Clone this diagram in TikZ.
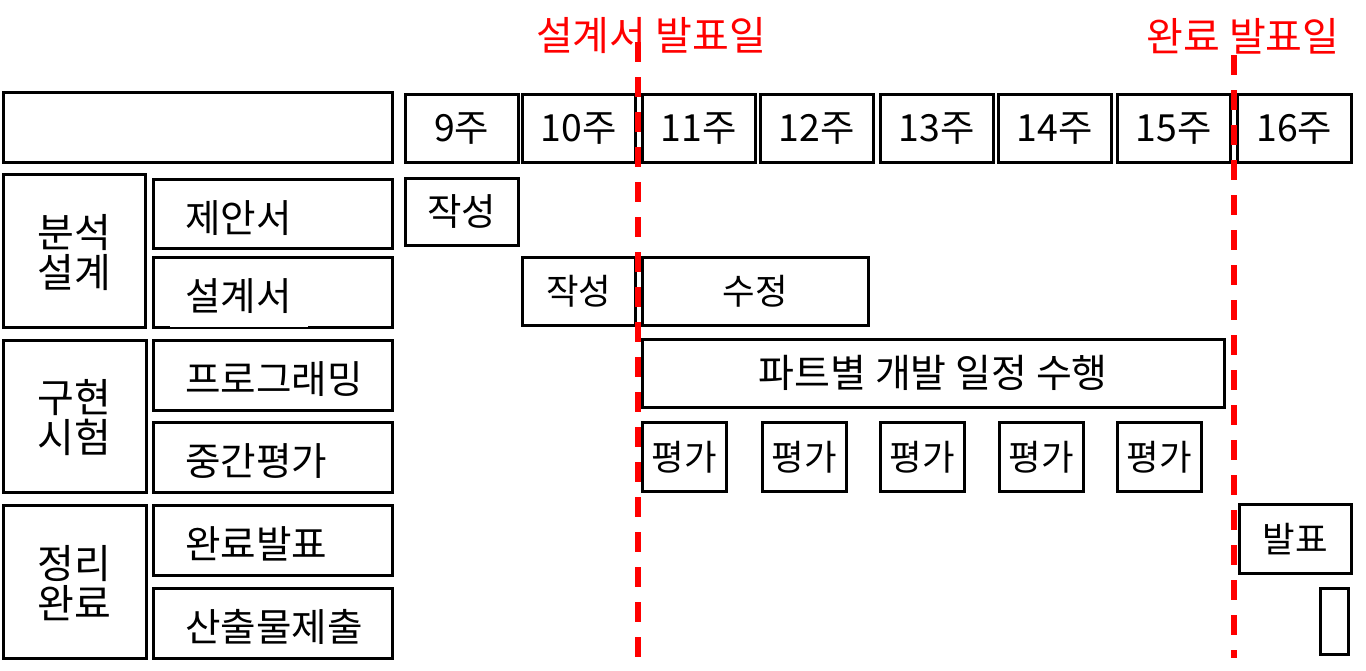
\documentclass[tikz,border=0pt]{standalone}
\usepackage{fontspec}
\setmainfont{Noto Sans CJK KR}
\usetikzlibrary{positioning}
\tikzset{
  cell/.style={draw, line width=1.25pt, inner sep=0pt, font=\fontsize{18.7}{19.5}\selectfont},
  small/.style={font=\fontsize{17.7}{19}\selectfont},
  stage/.style={align=center, text depth=-4pt, font=\fontsize{20}{20}\selectfont},
  due/.style={red, line width=2.6pt, dash pattern=on 10pt off 7.5pt},
  duetext/.style={red, font=\fontsize{20}{22}\selectfont},
}
% 좌상단(#3,#4), 우하단(#5,#6) 픽셀 좌표로 상자 그리기
\newcommand{\boxat}[7][]{%
  \node[cell, #1, anchor=north west, minimum width={(#5-#3)*0.5pt},
  minimum height={(#6-#4)*0.5pt}] (#2) at (#3,#4) {#7};
}
\begin{document}
\begin{tikzpicture}[x=0.5pt, y=-0.5pt]
  \useasboundingbox (0,0) rectangle (1366,670);

  % 주차 머리줄
  \boxat{head}{2}{91}{391}{161}{}
  \boxat{w9}{404}{93}{517}{161}{9주}
  \boxat{w10}{521}{93}{634}{161}{10주}
  \boxat{w11}{641}{93}{754}{161}{11주}
  \boxat{w12}{759}{93}{872}{161}{12주}
  \boxat{w13}{879}{93}{992}{161}{13주}
  \boxat{w14}{997}{93}{1110}{161}{14주}
  \boxat{w15}{1116}{93}{1229}{161}{15주}
  \boxat{w16}{1236}{93}{1350}{161}{16주}

  % 단계
  \boxat[stage]{design}{2}{173}{144}{326}{분석\\설계}
  \boxat[stage]{impl}{2}{339}{145}{491}{구현\\시험}
  \boxat[stage]{wrap}{2}{504}{145}{657}{정리\\완료}

  % 세부 항목
  \boxat{proposal}{152}{178}{391}{247}{}
  \boxat{spec}{152}{256}{391}{326}{}
  \draw[white, line width=0.6pt] (170,326.6) -- (308,326.6);
  \boxat{coding}{152}{339}{391}{409}{}
  \boxat{midterm}{152}{421}{391}{491}{}
  \boxat{final}{152}{504}{391}{574}{}
  \boxat{submit}{152}{587}{391}{657}{}
  \foreach \item/\txt in {proposal/제안서, spec/설계서, coding/프로그래밍,
    midterm/중간평가, final/완료발표, submit/산출물제출}
    \node[cell, draw=none, anchor=west, font=\fontsize{19.3}{20}\selectfont] (\item-txt)
      at ([xshift=16pt, yshift=-2pt]\item.west) {\txt};

  % 일정
  \boxat{write1}{404}{177}{517}{244}{작성}
  \boxat[small]{write2}{521}{256}{634}{324}{작성}
  \boxat[small]{revise}{641}{256}{867}{324}{수정}
  \boxat[font=\fontsize{19.5}{20}\selectfont]{dev}{641}{338}{1223}{406}{파트별 개발 일정 수행}
  \boxat[small]{eval1}{641}{421}{725}{490}{평가}
  \boxat[small]{eval2}{761}{421}{845}{490}{평가}
  \boxat[small]{eval3}{879}{421}{963}{490}{평가}
  \boxat[small]{eval4}{998}{421}{1082}{490}{평가}
  \boxat[small]{eval5}{1116}{421}{1200}{490}{평가}
  \boxat[small]{talk}{1238}{503}{1350}{572}{발표}
  \boxat{files}{1319}{587}{1347}{653}{}

  % 발표일 표시선
  \coordinate (d1top) at (638,42);
  \coordinate (d1bot) at (638,658);
  \coordinate (d2top) at (1234,55);
  \coordinate (d2bot) at (1234,658);
  \draw[due] (d1top) -- (d1bot);
  \draw[due] (d2top) -- (d2bot);
  \node[duetext] (d1txt) at (651,36) {설계서 발표일};
  \node[duetext] (d2txt) at (1243,36) {완료 발표일};
\end{tikzpicture}
\end{document}
